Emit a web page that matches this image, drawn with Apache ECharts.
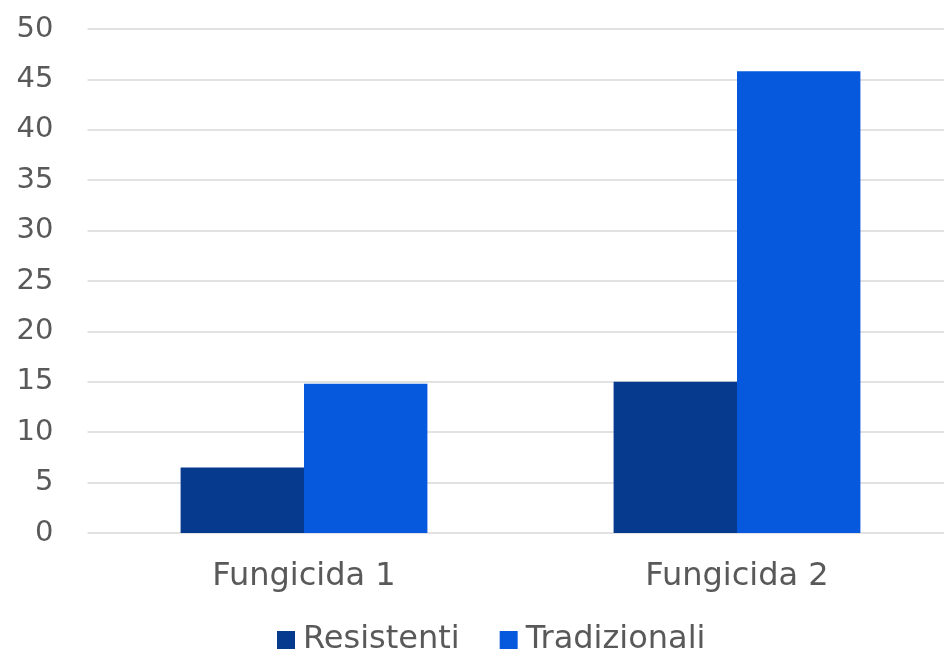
<!DOCTYPE html>
<html>
<head>
<meta charset="utf-8">
<script src="https://cdn.jsdelivr.net/npm/echarts@6/dist/echarts.min.js"></script>
<style>
html,body{margin:0;padding:0;background:#fff;overflow:hidden;}
#chart{width:960px;height:657px;}
</style>
</head>
<body>
<div id="chart"></div>
<script>
const categories = ['Fungicida 1', 'Fungicida 2'];
const resistenti = [6.5, 15.0];
const tradizionali = [14.8, 45.8];
const seriesNames = ['Resistenti', 'Tradizionali'];

const chart = echarts.init(document.getElementById('chart'));
const font = 'DejaVu Sans, Verdana, sans-serif';
chart.setOption({
  animation: false,
  backgroundColor: '#ffffff',
  grid: { left: 87.5, width: 866, top: 29, bottom: 124, containLabel: false },
  legend: {
    data: seriesNames,
    left: 272,
    top: 619,
    itemWidth: 18,
    itemHeight: 18,
    itemGap: 40,
    icon: 'rect',
    textStyle: { fontFamily: font, fontSize: 32, color: '#595959', padding: [0, 0, 0, 3] }
  },
  xAxis: {
    type: 'category',
    data: categories,
    axisLine: { show: false },
    axisTick: { show: false },
    axisLabel: { fontFamily: font, fontSize: 32, color: '#595959', margin: 28 }
  },
  yAxis: {
    type: 'value',
    min: 0,
    max: 50,
    interval: 5,
    axisLine: { show: false },
    axisTick: { show: false },
    axisLabel: { fontFamily: font, fontSize: 29, color: '#595959', margin: 34 },
    splitLine: { lineStyle: { color: '#d9d9d9', width: 1.5 } }
  },
  series: [
    {
      name: seriesNames[0], type: 'bar', data: resistenti,
      barGap: '0%', barCategoryGap: '43%',
      itemStyle: { color: '#053a8e' }
    },
    {
      name: seriesNames[1], type: 'bar', data: tradizionali,
      barGap: '0%', barCategoryGap: '43%',
      itemStyle: { color: '#0658dc' }
    }
  ]
});
</script>
</body>
</html>
